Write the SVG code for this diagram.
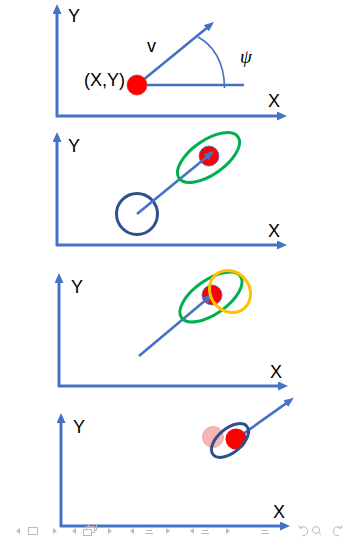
<svg xmlns="http://www.w3.org/2000/svg" width="347" height="540" viewBox="0 0 347 540">
<style>
.ax{stroke:#4472C4;stroke-width:3;fill:none;marker-end:url(#ah)}
.ar{stroke:#4472C4;stroke-width:2.6;fill:none;marker-end:url(#ah2)}
.lbl{font-family:"Liberation Sans",Arial,sans-serif;font-size:18px;fill:#000}
.red{fill:#FF0000}
.nav{fill:none;stroke:#B8BACB;stroke-width:1}
.navf{fill:#B8BACB}
</style>
<defs>
<marker id="ah" markerUnits="userSpaceOnUse" markerWidth="10" markerHeight="9" viewBox="0 0 10 10" refX="3" refY="5" orient="auto" preserveAspectRatio="none"><path d="M0,0 L10,5 L0,10 z" fill="#4472C4"/></marker>
<marker id="ah2" markerUnits="userSpaceOnUse" markerWidth="10" markerHeight="8" viewBox="0 0 10 10" refX="3" refY="5" orient="auto" preserveAspectRatio="none"><path d="M0,0 L10,5 L0,10 z" fill="#4472C4"/></marker>
</defs>

<g id="panel1">
<line class="ax" x1="57" y1="117" x2="57" y2="11"/>
<line class="ax" x1="56" y1="116" x2="280" y2="116"/>
<text class="lbl" x="68" y="22">Y</text>
<text class="lbl" x="268" y="107">X</text>
<line x1="137" y1="85" x2="244" y2="85" stroke="#4472C4" stroke-width="2.6"/>
<path d="M198,37 C213,45 224.5,62 224.5,88" fill="none" stroke="#4472C4" stroke-width="1.6"/>
<line class="ar" x1="137" y1="85" x2="208.6" y2="26.4"/>
<circle class="red" cx="137" cy="85" r="10" stroke="#E03030" stroke-width="0.8"/>
<text class="lbl" x="84" y="86" font-size="17">(X,Y)</text>
<text class="lbl" x="147" y="52" font-size="16">v</text>
<text x="240" y="63" font-family="'Liberation Serif','Times New Roman',serif" font-style="italic" font-size="19">ψ</text>
</g>

<g id="panel2">
<line class="ax" x1="57" y1="246" x2="57" y2="139"/>
<line class="ax" x1="56" y1="245" x2="280" y2="245"/>
<text class="lbl" x="68" y="152">Y</text>
<text class="lbl" x="268" y="237">X</text>
<circle cx="137" cy="214" r="20.5" fill="none" stroke="#2F4F8F" stroke-width="3"/>
<circle class="red" cx="209" cy="156" r="10" stroke="#4472C4" stroke-width="0.8"/>
<line class="ar" x1="137" y1="214" x2="208.6" y2="155.4"/>
<ellipse cx="208.5" cy="157.5" rx="36" ry="17" transform="rotate(-35 208.5 157.5)" fill="none" stroke="#00B050" stroke-width="3"/>
</g>

<g id="panel3">
<line class="ax" x1="59" y1="387" x2="59" y2="280"/>
<line class="ax" x1="58" y1="386" x2="281" y2="386"/>
<text class="lbl" x="71" y="293">Y</text>
<text class="lbl" x="270" y="378">X</text>
<circle class="red" cx="212" cy="295" r="10" stroke="#4472C4" stroke-width="0.8"/>
<line class="ar" x1="139" y1="356" x2="207.6" y2="298.5"/>
<ellipse cx="211" cy="297" rx="36" ry="17" transform="rotate(-35 211 297)" fill="none" stroke="#00B050" stroke-width="3"/>
<ellipse cx="230" cy="291.5" rx="22" ry="19.5" transform="rotate(50 230 291.5)" fill="none" stroke="#FFC000" stroke-width="3"/>
</g>

<g id="panel4">
<line class="ax" x1="61" y1="527" x2="61" y2="420"/>
<line class="ax" x1="60" y1="526" x2="283" y2="526"/>
<text class="lbl" x="73" y="433">Y</text>
<text class="lbl" x="273" y="518">X</text>
<circle cx="213" cy="437" r="10.5" fill="#F7B5B5" stroke="#E8A0A0" stroke-width="0.8"/>
<line class="ar" x1="236" y1="439" x2="288.2" y2="401.9"/>
<circle class="red" cx="236" cy="439" r="10.5"/>
<ellipse cx="230" cy="440.5" rx="22" ry="12" transform="rotate(-40 230 440.5)" fill="none" stroke="#2F4F8F" stroke-width="3"/>
</g>

<g id="navbar">
<path class="navf" d="M16,531 L20,528 L20,534 z"/>
<rect class="nav" x="28.5" y="527.5" width="9" height="7"/>
<path class="navf" d="M53,528 L57,531 L53,534 z"/>
<path class="navf" d="M72,531 L76,528 L76,534 z"/>
<rect class="nav" x="83.5" y="529.5" width="8" height="6"/>
<path class="nav" d="M86.5,529.5 V526.5 H94.5 V532.5 H91.5 M88.5,526.5 V524.5 H96.5 V530.5 H94.5"/>
<path class="navf" d="M108,528 L112,531 L108,534 z"/>
<path class="navf" d="M130,531 L134,528 L134,534 z"/>
<path class="nav" d="M145,527.5 H153 M146,530.5 H152 M145,533.5 H153"/>
<path class="navf" d="M166,528 L170,531 L166,534 z"/>
<path class="navf" d="M190,531 L194,528 L194,534 z"/>
<path class="nav" d="M201,527.5 H209 M202,530.5 H208 M201,533.5 H209"/>
<path class="navf" d="M226,528 L230,531 L226,534 z"/>
<path class="nav" d="M261,527.5 H269 M262,530.5 H268 M261,533.5 H269"/>
<path class="nav" d="M300,528 A4.5,4.5 0 1 1 302,535.5 M299,525.5 L300,528.5 L303,527.5"/>
<circle class="nav" cx="316" cy="530" r="3.5"/>
<path class="nav" d="M318.5,532.5 L321,535"/>
<path class="nav" d="M341,528 A4.5,4.5 0 1 0 339,535.5 M342,525.5 L341,528.5 L338,527.5"/>
</g>
</svg>
